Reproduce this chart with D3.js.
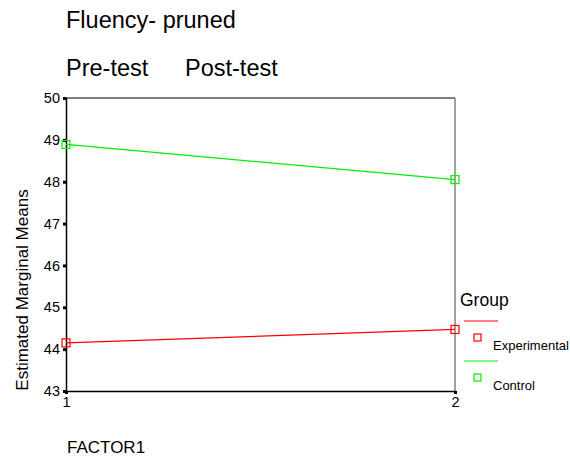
<!DOCTYPE html>
<html><head><meta charset="utf-8">
<script src="https://cdn.jsdelivr.net/npm/d3@7"></script>
<style>body{margin:0;background:#fff}svg{display:block}text{font-family:Arial,"Liberation Sans",sans-serif;fill:#000}</style>
</head><body><svg id="c" width="570" height="457"></svg>
<script>
const factorLevels = [1, 2];
const factorTitles = ["Pre-test", "Post-test"];
const groups = ["Experimental", "Control"];
const experimental = [44.15, 44.47];
const control = [48.89, 48.05];
const yTicks = [43, 44, 45, 46, 47, 48, 49, 50];
const colors = ["#ff0000", "#00ee00"];

const svg = d3.select("#c");
const x = d3.scaleLinear().domain([1, 2]).range([66, 455]);
const y = d3.scaleLinear().domain([43, 50]).range([391, 98]);

svg.append("text").attr("x", 66).attr("y", 28).attr("font-size", 23.5).text("Fluency- pruned");
svg.append("text").attr("x", 66).attr("y", 76).attr("font-size", 23.5).text(factorTitles[0]);
svg.append("text").attr("x", 185).attr("y", 76).attr("font-size", 23.5).text(factorTitles[1]);

// frame
svg.append("line").attr("x1", 66).attr("x2", 455).attr("y1", 98).attr("y2", 98).attr("stroke", "#000");
svg.append("line").attr("x1", 455).attr("x2", 455).attr("y1", 98).attr("y2", 391).attr("stroke", "#444");

const ya = svg.append("g").attr("transform", "translate(66,0)")
  .call(d3.axisLeft(y).tickValues(yTicks).tickSize(3).tickFormat(d3.format("d")));
ya.select(".domain").attr("stroke", "#000").attr("stroke-width", 1.5);
ya.selectAll(".tick line").attr("stroke", "#000").attr("stroke-width", 3);
ya.selectAll(".tick text").attr("font-size", 14.5).attr("font-family", "Arial").attr("fill", "#000").attr("x", -6);

const xa = svg.append("g").attr("transform", "translate(0,391)")
  .call(d3.axisBottom(x).tickValues(factorLevels).tickSize(3).tickFormat(d3.format("d")));
xa.select(".domain").attr("stroke", "#000").attr("stroke-width", 1.5);
xa.selectAll(".tick line").attr("stroke", "#000").attr("stroke-width", 3);
xa.selectAll(".tick text").attr("font-size", 14.5).attr("font-family", "Arial").attr("fill", "#000").attr("y", 6);

svg.append("text").attr("transform", "translate(28,290) rotate(-90)").attr("text-anchor", "middle")
  .attr("font-size", 17).text("Estimated Marginal Means");
svg.append("text").attr("x", 67).attr("y", 453).attr("font-size", 17).text("FACTOR1");

const series = [experimental, control];
const line = d3.line().x((d, i) => x(factorLevels[i])).y(d => y(d));
series.forEach((s, k) => {
  svg.append("path").attr("d", line(s)).attr("fill", "none").attr("stroke", colors[k]).attr("stroke-width", 1.2);
  svg.selectAll(null).data(s).enter().append("rect")
    .attr("x", (d, i) => x(factorLevels[i]) - 4).attr("y", d => y(d) - 4)
    .attr("width", 8).attr("height", 8).attr("fill", "none").attr("stroke", colors[k]).attr("stroke-width", 1.2);
});

// legend
svg.append("text").attr("x", 460).attr("y", 306).attr("font-size", 17.5).text("Group");
groups.forEach((g, k) => {
  const oy = 321 + k * 40;
  svg.append("line").attr("x1", 464).attr("x2", 498).attr("y1", oy).attr("y2", oy).attr("stroke", colors[k]);
  svg.append("rect").attr("x", 474).attr("y", oy + 13).attr("width", 7).attr("height", 7)
    .attr("fill", "none").attr("stroke", colors[k]).attr("stroke-width", 1.2);
  svg.append("text").attr("x", 493).attr("y", oy + 28.5).attr("font-size", 13).text(g);
});
</script></body></html>
